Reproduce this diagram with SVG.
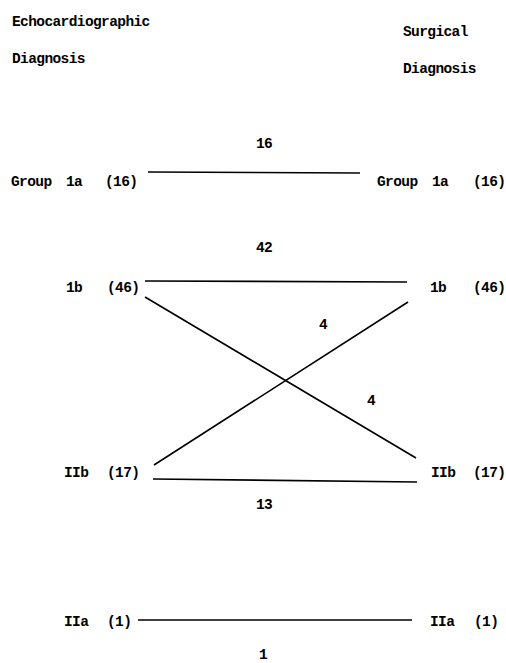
<svg xmlns="http://www.w3.org/2000/svg" width="506" height="663" viewBox="0 0 506 663">
<style>
text{font-family:"Liberation Mono","DejaVu Sans Mono",monospace;font-weight:bold;font-size:14.5px;letter-spacing:-0.6px;fill:#000}
.n{text-anchor:middle}
line{stroke:#000;stroke-width:1.6;fill:none}
</style>
<rect width="506" height="663" fill="#fff"/>
<g id="headers">
<text x="12" y="26">Echocardiographic</text>
<text x="12" y="63">Diagnosis</text>
<text x="403" y="36">Surgical</text>
<text x="403" y="73">Diagnosis</text>
</g>
<g id="echo-1a"><text x="11" y="186">Group</text><text x="66" y="186">1a</text><text x="105" y="186">(16)</text></g>
<g id="surg-1a"><text x="377" y="186">Group</text><text x="432" y="186">1a</text><text x="473" y="186">(16)</text></g>
<g id="echo-1b"><text x="66" y="292">1b</text><text x="107" y="292">(46)</text></g>
<g id="surg-1b"><text x="430" y="292">1b</text><text x="473" y="292">(46)</text></g>
<g id="echo-IIb"><text x="64" y="477">IIb</text><text x="107" y="477">(17)</text></g>
<g id="surg-IIb"><text x="431" y="477">IIb</text><text x="473" y="477">(17)</text></g>
<g id="echo-IIa"><text x="64" y="626">IIa</text><text x="107" y="626">(1)</text></g>
<g id="surg-IIa"><text x="430" y="626">IIa</text><text x="474" y="626">(1)</text></g>
<g id="connectors">
<line x1="148" y1="172" x2="360" y2="173"/>
<line x1="145" y1="281" x2="407" y2="282"/>
<line x1="145" y1="297" x2="416" y2="458"/>
<line x1="154" y1="465" x2="408" y2="302"/>
<line x1="153" y1="479" x2="417" y2="482"/>
<line x1="138" y1="620" x2="412" y2="620"/>
<text class="n" x="264" y="148">16</text>
<text class="n" x="264" y="252">42</text>
<text class="n" x="323" y="329">4</text>
<text class="n" x="371" y="405">4</text>
<text class="n" x="264" y="509">13</text>
<text class="n" x="263" y="659">1</text>
</g>
</svg>
